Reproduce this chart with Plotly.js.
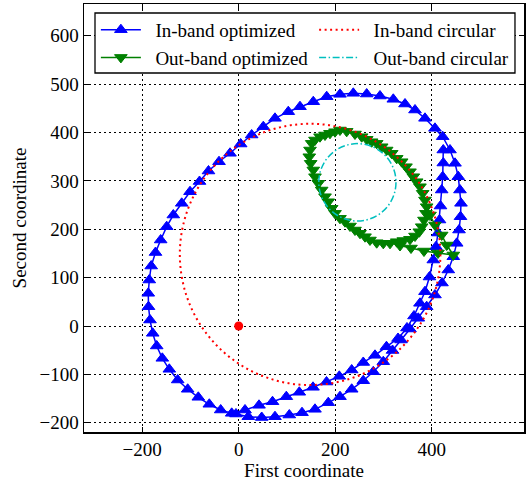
<!DOCTYPE html>
<html>
<head>
<meta charset="utf-8">
<script src="https://cdn.plot.ly/plotly-3.0.1.min.js"></script>
<style>html,body{margin:0;padding:0;background:#fff;}#chart{width:527px;height:484px;}</style>
</head>
<body>
<div id="chart"></div>
<script>
// In-band optimized trajectory (blue, triangle-up)
var blueX = [424.0, 424.0, 422.8, 420.7, 418.2, 416.2, 413.0, 408.9, 403.3, 395.4,
  386.1, 375.7, 363.3, 348.8, 330.2, 306.3, 282.5, 258.2, 234.2, 208.5, 182.0, 154.0, 125.6, 98.7, 70.1, 42.1, 13.1, -14.5,
  -37.3, -60.9, -83.7, -105.7, -126.4, -143.8, -158.3, -169.9, -178.2, -183.8, -186.9, -187.4, -185.3, -181.3, -172.4, -161.7,
  -149.2, -135.5, -118.1, -100.9, -81.2, -62.6, -40.8, -18.0, 4.1, 26.9, 51.0, 75.2, 102.8, 127.0, 154.6, 182.4, 209.9, 237.5,
  265.3, 292.8, 320.4, 344.7, 365.4, 386.1, 406.8, 422.8,
  437.9, 448.3, 455.1, 458.6, 460.7, 459.7, 456.6, 451.8, 444.8, 434.4, 421.3, 406.8, 389.6, 372.2, 355.0, 336.4, 318.8, 299.7,
  279.0, 258.2, 234.2, 209.9, 185.7, 158.1, 131.2, 104.9, 75.2, 47.7, 19.9, -5.6];
var blueY = [363.8, 336.9, 308.6, 281.1, 248.0, 219.1, 192.2, 163.9, 136.4, 101.3,
  70.9, 46.9, 20.7, -4.1, -25.8, -42.8, -60.6, -75.4, -90.9, -104.0, -115.8, -126.7, -137.0, -146.1, -156.5, -163.9, -173.6, -180.5,
  -173.6, -161.8, -147.4, -130.8, -111.6, -89.5, -66.8, -41.3, -15.1, 12.4, 39.9, 67.6, 95.1, 124.0, 151.9, 177.8,
  205.3, 229.4, 253.6, 277.6, 298.7, 320.4, 339.6, 357.0, 376.2, 394.8, 412.0, 429.3, 443.0, 453.3, 463.6, 474.0, 478.9, 481.0,
  479.5, 475.4, 468.6, 458.9, 446.5, 429.3, 408.6, 391.3,
  363.8, 336.3, 308.6, 281.1, 253.6, 225.9, 198.4, 170.9, 143.2, 115.8, 88.9, 64.1, 39.9, 15.9, -6.2, -28.9, -50.6, -73.8,
  -94.5, -113.1, -130.8, -146.1, -158.5, -172.2, -179.2, -184.0, -187.5, -189.1, -187.5, -181.9];

// Out-band optimized trajectory (green, triangle-down)
var greenX = [388.2, 384.0, 379.3, 374.3, 365.4, 355.0, 341.1, 327.5, 313.6, 299.7,
  286.0, 272.1, 261.8, 251.4, 241.0, 230.7, 220.3, 209.9, 199.6, 192.7,
  185.7, 178.9, 172.0, 165.0, 158.1, 154.6, 149.2, 146.3, 147.8, 151.3,
  158.1, 168.5, 178.9, 189.2, 199.6, 209.9, 223.8, 241.0, 254.9, 265.3,
  275.6, 286.0, 296.4, 306.7, 317.1, 327.5, 337.8, 346.7, 355.0, 361.9,
  368.9, 375.7, 381.3, 386.1, 389.6, 396.5, 406.8, 420.7, 431.1, 444.8,
  413.0, 384.0, 357.1, 334.3];
var greenY = [232.9, 219.1, 205.3, 194.9, 186.0, 179.2, 176.7, 174.3, 170.9, 170.9,
  172.2, 177.8, 184.6, 191.6, 198.4, 206.7, 215.6, 222.6, 232.9, 243.3,
  256.9, 267.3, 281.1, 295.0, 308.6, 322.5, 336.3, 349.9, 363.8, 377.6,
  384.5, 391.3, 394.8, 398.3, 401.6, 405.1, 402.4, 396.9, 391.3, 385.9,
  380.9, 377.6, 370.6, 363.8, 357.0, 346.6, 339.6, 329.3, 318.9, 308.6,
  298.3, 287.9, 274.3, 260.4, 246.6, 229.4, 208.8, 188.1, 167.4, 146.8,
  150.9, 155.0, 161.2, 166.4];

// Circular references: centre [x, y] and radius
var inCircleCenter = [148, 148];
var inCircleRadius = 270;
var outCircleCenter = [246, 297];
var outCircleRadius = 80;

// Origin point
var originX = [0];
var originY = [0];

var xTicks = [-200, 0, 200, 400];
var yTicks = [-200, -100, 0, 100, 200, 300, 400, 500, 600];

var FONT = 'Liberation Serif, Times New Roman, serif';
var FS = 19;
var redDot = '2px,3.5px';
var cyanDashDot = '7px,2.5px,1.5px,2.5px';
var NB = '\u00a0\u00a0';

var traces = [
  {x: blueX, y: blueY, type: 'scatter', mode: 'lines+markers', name: NB + 'In-band optimized',
   line: {color: '#0000ff', width: 1.5},
   marker: {symbol: 'triangle-up', size: 11, color: '#0000ff', line: {color: '#0000ff', width: 1}},
   legend: 'legend'},
  {x: greenX, y: greenY, type: 'scatter', mode: 'lines+markers', name: NB + 'Out-band optimized',
   line: {color: '#008000', width: 1.5},
   marker: {symbol: 'triangle-down', size: 11, color: '#008000', line: {color: '#008000', width: 1}},
   legend: 'legend'},
  {x: [null], y: [null], type: 'scatter', mode: 'lines', name: NB + 'In-band circular',
   line: {color: '#ff0000', width: 2, dash: redDot}, legend: 'legend2'},
  {x: [null], y: [null], type: 'scatter', mode: 'lines', name: NB + 'Out-band circular',
   line: {color: '#00bfbf', width: 1.5, dash: cyanDashDot}, legend: 'legend2'},
  {x: originX, y: originY, type: 'scatter', mode: 'markers', showlegend: false,
   marker: {symbol: 'circle', size: 9, color: '#ff0000'}}
];

var shapes = [
  {type: 'circle', xref: 'x', yref: 'y', layer: 'above',
   x0: inCircleCenter[0] - inCircleRadius, x1: inCircleCenter[0] + inCircleRadius,
   y0: inCircleCenter[1] - inCircleRadius, y1: inCircleCenter[1] + inCircleRadius,
   line: {color: '#ff0000', width: 2, dash: redDot}},
  {type: 'circle', xref: 'x', yref: 'y', layer: 'above',
   x0: outCircleCenter[0] - outCircleRadius, x1: outCircleCenter[0] + outCircleRadius,
   y0: outCircleCenter[1] - outCircleRadius, y1: outCircleCenter[1] + outCircleRadius,
   line: {color: '#00bfbf', width: 1.5, dash: cyanDashDot}},
  // legend frame
  {type: 'rect', xref: 'paper', yref: 'paper', layer: 'above',
   x0: 0.025, x1: 0.9795, y0: 0.8388, y1: 0.979,
   fillcolor: '#fff', line: {color: '#000', width: 1.3}}
];

var axisCommon = {
  showline: true, linecolor: '#000', linewidth: 1.5, mirror: 'ticks',
  ticks: 'inside', ticklen: 5, tickwidth: 1, tickcolor: '#000',
  showgrid: true, gridcolor: '#000', gridwidth: 1, griddash: '1.5px,3.5px',
  zeroline: false, tickfont: {family: FONT, size: FS, color: '#000'}
};

var legendCommon = {
  y: 0.984, xanchor: 'left', yanchor: 'top', orientation: 'v',
  bgcolor: 'rgba(0,0,0,0)', borderwidth: 0,
  font: {family: FONT, size: FS, color: '#000'}, itemwidth: 40, tracegroupgap: 0
};

var layout = {
  width: 527, height: 484,
  margin: {l: 84, r: 3, t: 4, b: 52, pad: 0},
  paper_bgcolor: '#fff', plot_bgcolor: '#fff',
  font: {family: FONT, size: FS, color: '#000'},
  xaxis: Object.assign({}, axisCommon, {
    range: [-320.6, 591.3], tickvals: xTicks, autorange: false,
    title: {text: 'First coordinate', font: {family: FONT, size: FS, color: '#000'}, standoff: 4}
  }),
  yaxis: Object.assign({}, axisCommon, {
    range: [-219.1, 665.6], tickvals: yTicks, autorange: false,
    title: {text: 'Second coordinate', font: {family: FONT, size: FS, color: '#000'}, standoff: 8}
  }),
  showlegend: true,
  legend: Object.assign({}, legendCommon, {x: 0.027}),
  legend2: Object.assign({}, legendCommon, {x: 0.523}),
  shapes: shapes
};

Plotly.newPlot('chart', traces, layout, {displayModeBar: false, staticPlot: true});
</script>
</body>
</html>
